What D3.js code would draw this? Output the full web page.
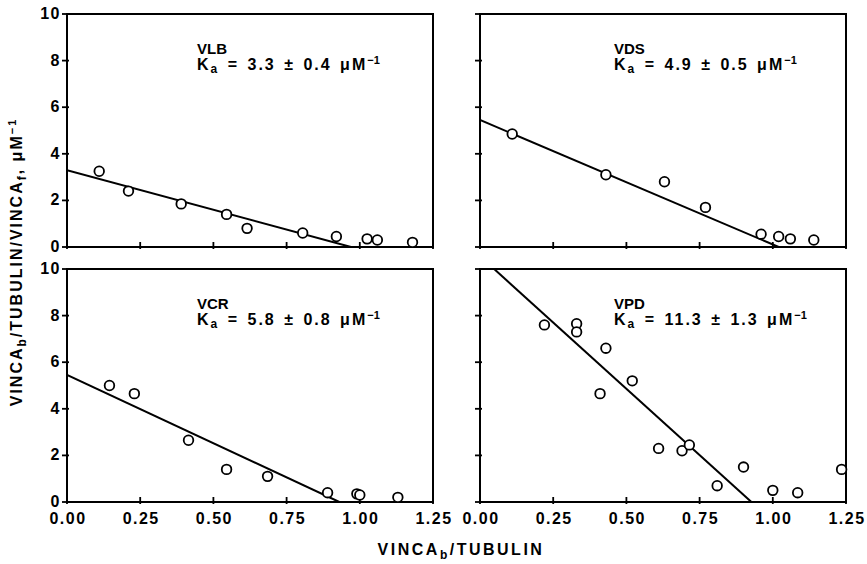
<!DOCTYPE html>
<html>
<head>
<meta charset="utf-8">
<script src="https://cdn.jsdelivr.net/npm/d3@7"></script>
<style>
  body { margin: 0; background: #fff; }
  svg { display: block; font-family: "Liberation Sans", Arial, sans-serif; font-weight: bold; }
  .tick-label { font-size: 16px; letter-spacing: 1.5px; }
  .note { font-size: 16px; letter-spacing: 2px; word-spacing: 2px; }
  .title { font-size: 16px; letter-spacing: 2px; }
</style>
</head>
<body>
<svg id="chart" width="867" height="564"></svg>
<script>
// panel names and binding constants
const drugs = ["VLB", "VDS", "VCR", "VPD"];
const kaText = ["3.3 \u00b1 0.4", "4.9 \u00b1 0.5", "5.8 \u00b1 0.8", "11.3 \u00b1 1.3"];

// scatchard data
const vlbX = [0.11, 0.21, 0.39, 0.545, 0.615, 0.805, 0.92, 1.025, 1.06, 1.18];
const vlbY = [3.25, 2.4, 1.85, 1.4, 0.8, 0.6, 0.45, 0.35, 0.3, 0.2];
const vdsX = [0.11, 0.43, 0.63, 0.77, 0.96, 1.02, 1.06, 1.14];
const vdsY = [4.85, 3.1, 2.8, 1.7, 0.55, 0.45, 0.35, 0.3];
const vcrX = [0.145, 0.23, 0.415, 0.545, 0.685, 0.89, 0.99, 1.0, 1.13];
const vcrY = [5.0, 4.65, 2.65, 1.4, 1.1, 0.4, 0.35, 0.3, 0.2];
const vpdX = [0.22, 0.33, 0.33, 0.43, 0.41, 0.52, 0.61, 0.69, 0.715, 0.81, 0.9, 1.0, 1.085, 1.235];
const vpdY = [7.6, 7.65, 7.3, 6.6, 4.65, 5.2, 2.3, 2.2, 2.45, 0.7, 1.5, 0.5, 0.4, 1.4];

// fitted lines: y intercept and x intercept
const fitY0 = [3.3, 5.45, 5.45, 10.55];
const fitX0 = [0.97, 1.02, 0.93, 0.927];

const xTicks = [0, 0.25, 0.5, 0.75, 1.0, 1.25];
const yTicks = [0, 2, 4, 6, 8, 10];

const allX = [vlbX, vdsX, vcrX, vpdX];
const allY = [vlbY, vdsY, vcrY, vpdY];

const svg = d3.select("#chart");
const W = 366, H = 233;
const origins = [[67, 14], [480, 14], [67, 269], [480, 269]];

drugs.forEach((name, i) => {
  const [ox, oy] = origins[i];
  const g = svg.append("g").attr("transform", `translate(${ox},${oy})`);
  const x = d3.scaleLinear().domain([0, 1.25]).range([0, W]);
  const y = d3.scaleLinear().domain([0, 10]).range([H, 0]);

  g.append("clipPath").attr("id", "clip" + i)
    .append("rect").attr("width", W).attr("height", H);

  // ticks crossing the left and bottom edges
  g.selectAll("line.yt").data(yTicks).enter().append("line")
    .attr("x1", -5).attr("x2", 2)
    .attr("y1", (d) => y(d)).attr("y2", (d) => y(d))
    .style("stroke", "#000").style("stroke-width", 1.8);
  g.selectAll("line.xt").data(xTicks).enter().append("line")
    .attr("x1", (d) => x(d)).attr("x2", (d) => x(d))
    .attr("y1", H + 2).attr("y2", H - 5)
    .style("stroke", "#000").style("stroke-width", 1.8);

  g.append("rect").attr("width", W).attr("height", H)
    .style("fill", "none").style("stroke", "#000").style("stroke-width", 2);

  if (i % 2 === 0) {
    g.selectAll("text.yl").data(yTicks).enter().append("text")
      .attr("class", "tick-label")
      .attr("x", -6).attr("y", (d) => y(d) + 5)
      .attr("text-anchor", "end")
      .text((d) => d);
  }
  if (i >= 2) {
    g.selectAll("text.xl").data(xTicks).enter().append("text")
      .attr("class", "tick-label")
      .attr("x", (d) => x(d) + 1).attr("y", H + 22)
      .attr("text-anchor", "middle")
      .text((d) => d.toFixed(2));
  }

  g.append("line")
    .attr("clip-path", `url(#clip${i})`)
    .attr("x1", x(0)).attr("y1", y(fitY0[i]))
    .attr("x2", x(fitX0[i])).attr("y2", y(0))
    .style("stroke", "#000").style("stroke-width", 2);

  g.selectAll("circle").data(d3.range(allX[i].length)).enter().append("circle")
    .attr("cx", (k) => x(allX[i][k]))
    .attr("cy", (k) => y(allY[i][k]))
    .attr("r", 4.8)
    .style("fill", "#fff").style("stroke", "#000").style("stroke-width", 1.8);

  const tx = i % 2 === 0 ? 130 : 134;
  g.append("text").attr("class", "note").attr("x", tx).attr("y", 40)
    .style("letter-spacing", "0px").style("font-size", "15px").text(name);
  const t = g.append("text").attr("class", "note").attr("x", tx).attr("y", 56);
  t.append("tspan").text("K");
  t.append("tspan").attr("dy", 3).style("font-size", "12px").text("a");
  t.append("tspan").attr("dy", -3).text(" = " + kaText[i] + " \u03bcM");
  t.append("tspan").attr("dy", -6).style("font-size", "11px").style("letter-spacing", "0px").text("\u22121");
});

// axis titles
const yt = svg.append("text").attr("class", "title")
  .attr("transform", "translate(22,262) rotate(-90)")
  .attr("text-anchor", "middle");
yt.append("tspan").text("VINCA");
yt.append("tspan").attr("dy", 4).style("font-size", "12px").text("b");
yt.append("tspan").attr("dy", -4).text("/TUBULIN/VINCA");
yt.append("tspan").attr("dy", 4).style("font-size", "12px").text("f");
yt.append("tspan").attr("dy", -4).text(", \u03bcM");
yt.append("tspan").attr("dy", -6).style("font-size", "11px").text("\u22121");

const xt = svg.append("text").attr("class", "title")
  .attr("x", 461).attr("y", 555)
  .attr("text-anchor", "middle").style("letter-spacing", "2.5px");
xt.append("tspan").text("VINCA");
xt.append("tspan").attr("dy", 4).style("font-size", "12px").text("b");
xt.append("tspan").attr("dy", -4).text("/TUBULIN");
</script>
</body>
</html>
